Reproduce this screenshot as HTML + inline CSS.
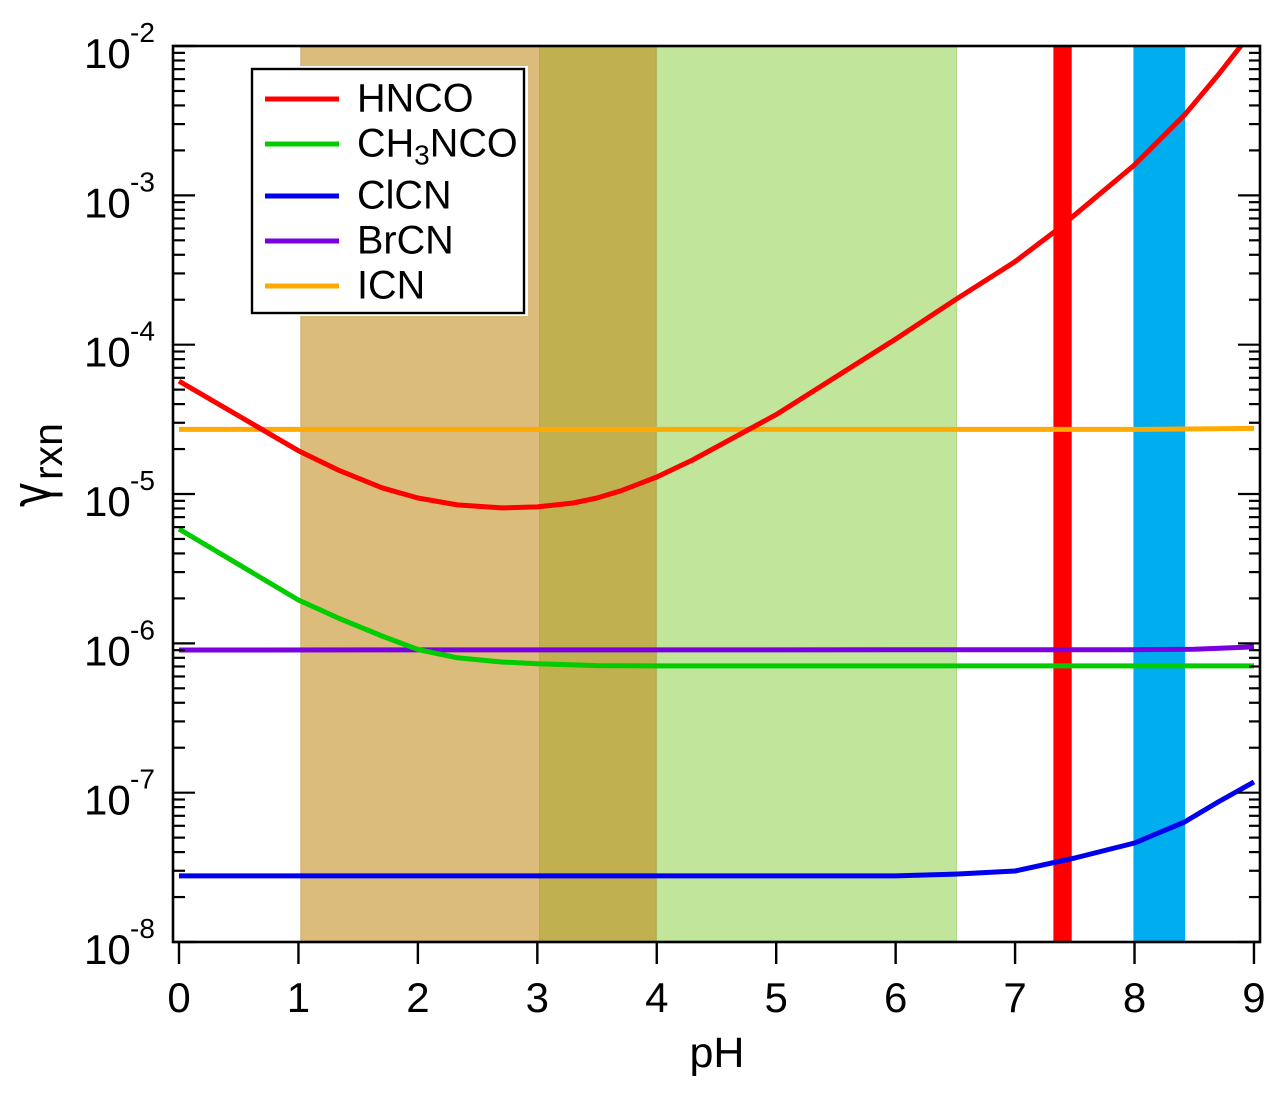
<!DOCTYPE html>
<html lang="en">
<head>
<meta charset="utf-8">
<title>Reaction probability vs pH</title>
<style>
html,body{margin:0;padding:0;background:#fff;}
svg{display:block;font-family:"Liberation Sans",Arial,sans-serif;}
</style>
</head>
<body>
<svg id="chart" xmlns="http://www.w3.org/2000/svg" width="1283" height="1099" viewBox="0 0 1283 1099"></svg>
<script>
var xTicks = [0,1,2,3,4,5,6,7,8,9];
var yExponents = [-8,-7,-6,-5,-4,-3,-2];
var minorMultipliers = [2,3,4,5,6,7,8,9];

var bandNames = ['band-tan','band-green','band-olive','band-red','band-blue'];
var bandStarts = [1.02,4.0,3.02,7.325,7.995];
var bandEnds = [3.02,6.51,3.995,7.47,8.42];
var bandColors = ['#dbbc7b','#c1e59b','#c0b050','#fe0000','#00aef0'];
var bandEdges = ['#cfa968','#b2d88a','#b5a548','#fe0000','#00aef0'];

var hncoPH = [0,1,1.33,1.7,2,2.33,2.7,3,3.3,3.5,3.7,4,4.3,5,6,6.5,7,7.33,8,8.42,8.7,8.89];
var hncoValues = [5.7e-5,1.95e-5,1.45e-5,1.1e-5,9.4e-6,8.45e-6,8.07e-6,8.2e-6,8.7e-6,9.4e-6,1.05e-5,1.3e-5,1.69e-5,3.4e-5,1.09e-4,2e-4,3.6e-4,5.7e-4,1.6e-3,3.46e-3,6.4e-3,1e-2];

var ch3ncoPH = [0,1,1.33,1.7,2,2.33,2.7,3,3.5,4,9];
var ch3ncoValues = [5.83e-6,1.95e-6,1.48e-6,1.12e-6,9.1e-7,8e-7,7.5e-7,7.3e-7,7.1e-7,7.06e-7,7.06e-7];

var clcnPH = [0,6,6.5,7,7.5,8,8.42,8.7,9];
var clcnValues = [2.77e-8,2.77e-8,2.85e-8,2.99e-8,3.65e-8,4.6e-8,6.37e-8,8.66e-8,1.18e-7];

var brcnPH = [0,8,8.5,9];
var brcnValues = [9.03e-7,9.07e-7,9.13e-7,9.46e-7];

var icnPH = [0,8,9];
var icnValues = [2.71e-5,2.71e-5,2.75e-5];

var seriesNames = ['HNCO','CH3NCO','ClCN','BrCN','ICN'];
var seriesColors = ['#fe0000','#00cc00','#0000ee','#7a00e0','#ffaa00'];
var seriesPH = [hncoPH,ch3ncoPH,clcnPH,brcnPH,icnPH];
var seriesValues = [hncoValues,ch3ncoValues,clcnValues,brcnValues,icnValues];
var drawOrder = [2,4,3,1,0];

var legendRowY = [99,144,196,241,286];

var NS = 'http://www.w3.org/2000/svg';
var svg = document.getElementById('chart');

function xScale(ph){ return 179 + ph * 119.44; }
function yScale(v){ return 942 - (Math.log10(v) + 8) * 149.33; }

function make(tag, attrs, parent, txt){
  var el = document.createElementNS(NS, tag);
  for (var k in attrs) el.setAttribute(k, attrs[k]);
  if (txt !== undefined) el.textContent = txt;
  (parent || svg).appendChild(el);
  return el;
}

var bandsGroup = make('g', {});


bandNames.forEach(function(name, i){
  var x0 = xScale(bandStarts[i]), x1 = xScale(bandEnds[i]);
  var r = make('rect', {x:x0, y:47, width:x1-x0, height:894, fill:bandColors[i], stroke:bandEdges[i], 'stroke-width':1}, bandsGroup);
  
  
});

var linesGroup = make('g', {});


drawOrder.forEach(function(s){
  var pts = seriesPH[s].map(function(p, j){
    return xScale(p).toFixed(1) + ',' + yScale(seriesValues[s][j]).toFixed(1);
  }).join(' ');
  var l = make('polyline', {points:pts, fill:'none', stroke:seriesColors[s], 'stroke-width':5, 'stroke-linejoin':'round'}, linesGroup);
  
  
});

var axes = make('g', {stroke:'#000', fill:'none'});


var frame = make('rect', {x:173, y:46, width:1087, height:896, 'stroke-width':2.6}, axes);



xTicks.forEach(function(t){
  var x = xScale(t);
  var tick = make('line', {x1:x, x2:x, y1:942, y2:964, 'stroke-width':2.4}, axes);
  
  
  var lab = make('text', {x:x, y:1012, 'text-anchor':'middle', 'font-size':42, fill:'#000'}, svg, String(t));
  
  
});

yExponents.forEach(function(e, i){
  var y = yScale(Math.pow(10, e));
  var a = make('line', {x1:173, x2:195, y1:y, y2:y, 'stroke-width':2.2}, axes);
  
  
  var b = make('line', {x1:1238, x2:1260, y1:y, y2:y, 'stroke-width':2.2}, axes);
  
  
  if (i < yExponents.length - 1) {
    minorMultipliers.forEach(function(m){
      var ym = yScale(m * Math.pow(10, e));
      var c = make('line', {x1:173, x2:185, y1:ym, y2:ym, 'stroke-width':2.2}, axes);
      
      
      var d = make('line', {x1:1249, x2:1260, y1:ym, y2:ym, 'stroke-width':2.2}, axes);
      
      
    });
  }
  var base = make('text', {x:84, y:y + 22, 'font-size':42, fill:'#000'}, svg, '10');
  
  
  var sup = make('text', {x:130, y:y - 4, 'font-size':28, fill:'#000'}, svg, String(e));
  
  
});

var xTitle = make('text', {x:717, y:1067, 'text-anchor':'middle', 'font-size':43, fill:'#000'}, svg, 'pH');



var yTitle = make('g', {transform:'translate(62,507) rotate(-90)'});


make('text', {x:0, y:-11, 'font-size':56, 'font-family':'"DejaVu Sans",sans-serif', fill:'#000', textLength:25, lengthAdjust:'spacingAndGlyphs'}, yTitle, 'γ');
make('text', {x:27, y:0, 'font-size':41, fill:'#000'}, yTitle, 'rxn');

var legend = make('g', {});


var halo = make('rect', {x:249, y:66, width:279, height:250, fill:'#fff'}, legend);


var box = make('rect', {x:252, y:69, width:272, height:244, fill:'#fff', stroke:'#000', 'stroke-width':2.4}, legend);


seriesNames.forEach(function(n, i){
  var y = legendRowY[i];
  var row = make('g', {}, legend);
  
  
  make('line', {x1:265, x2:339, y1:y, y2:y, stroke:seriesColors[i], 'stroke-width':5}, row);
  var t = make('text', {x:357, y:y + 12.5, 'font-size':39.6, fill:'#000'}, row);
  if (n === 'CH3NCO') {
    make('tspan', {}, t, 'CH');
    make('tspan', {dy:8, 'font-size':28}, t, '3');
    make('tspan', {dy:-8}, t, 'NCO');
  } else {
    t.textContent = n;
  }
});
</script>
</body>
</html>
